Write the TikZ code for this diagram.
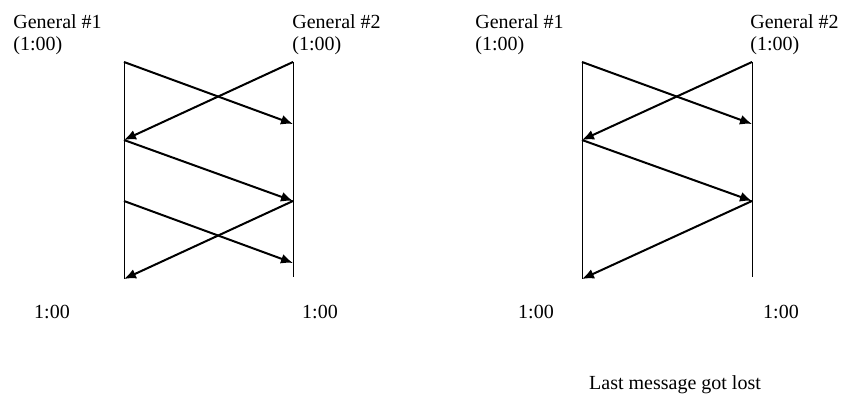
\documentclass[tikz,border=0pt]{standalone}
\usepackage{fontspec}
\setmainfont{Liberation Serif}
\usetikzlibrary{arrows.meta}

\begin{document}
\begin{tikzpicture}[
  x=0.5pt, y=-0.5pt,
  timeline/.style={draw=black, line width=0.5pt},
  msg/.style={-{Latex[length=6pt, width=5pt]}, line width=1pt, black},
  general/.style={anchor=north west, inner sep=0pt, align=left,
                  font=\fontsize{10}{11}\selectfont},
  tlabel/.style={inner sep=0pt, font=\fontsize{10}{11}\selectfont},
]
\useasboundingbox (0,0) rectangle (842,405);

% Left diagram: time points
\coordinate (a0) at (124,62);
\coordinate (a1) at (124,140);
\coordinate (a2) at (124,201);
\coordinate (a3) at (124,279);
\coordinate (b0) at (293,62);
\coordinate (b1) at (293,124);
\coordinate (b2) at (293,201);
\coordinate (b3) at (293,263);
\coordinate (b4) at (293,277);

% Left diagram: labels
\node[general] (gen1l) at (13,14) {General \#1\\(1:00)};
\node[general] (gen2l) at (292,14) {General \#2\\(1:00)};
\node[tlabel] (end1l) at (52,312) {1:00};
\node[tlabel] (end2l) at (320,312) {1:00};

% Left diagram: timelines
\draw[timeline] (a0) -- (a3);
\draw[timeline] (b0) -- (b4);

% Left diagram: messages
\draw[msg] (a0) -- (b1);
\draw[msg] (b0) -- (a1);
\draw[msg] (a1) -- (b2);
\draw[msg] (a2) -- (b3);
\draw[msg] (b2) -- (a3);

% Right diagram: time points
\coordinate (c0) at (582,62);
\coordinate (c1) at (582,140);
\coordinate (c3) at (582,279);
\coordinate (d0) at (752,62);
\coordinate (d1) at (752,124);
\coordinate (d2) at (752,201);
\coordinate (d4) at (752,277);

% Right diagram: labels
\node[general] (gen1r) at (475,14) {General \#1\\(1:00)};
\node[general] (gen2r) at (750,14) {General \#2\\(1:00)};
\node[tlabel] (end1r) at (536,312) {1:00};
\node[tlabel] (end2r) at (781,312) {1:00};
\node[tlabel] (lost) at (675,385) {Last message got lost};

% Right diagram: timelines
\draw[timeline] (c0) -- (c3);
\draw[timeline] (d0) -- (d4);

% Right diagram: messages
\draw[msg] (c0) -- (d1);
\draw[msg] (d0) -- (c1);
\draw[msg] (c1) -- (d2);
\draw[msg] (d2) -- (c3);

\end{tikzpicture}
\end{document}
